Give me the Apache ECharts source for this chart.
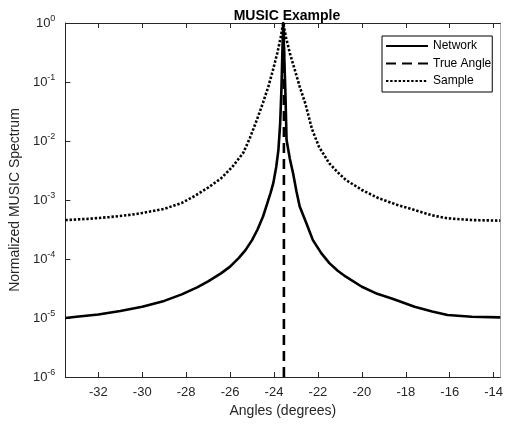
<!DOCTYPE html>
<html>
<head>
<meta charset="utf-8">
<script src="https://cdn.jsdelivr.net/npm/echarts@6/dist/echarts.min.js"></script>
<style>
  html, body { margin: 0; padding: 0; background: #fff; }
  #chart { width: 506px; height: 424px; }
</style>
</head>
<body>
<div id="chart"></div>
<script>
// values; spectrum values given as log10 (decades)
const xTicks = [-32, -30, -28, -26, -24, -22, -20, -18, -16, -14]

const networkAngles = [-33.5, -33.0, -32.0, -31.0, -30.0, -29.0, -28.2, -27.5, -27.0, -26.4, -26.0, -25.6, -25.3, -25.0,
    -24.75, -24.5, -24.3, -24.15, -24.03, -23.9, -23.8, -23.72, -23.66, -23.62, -23.58,
    -23.54, -23.48, -23.43, -23.28, -23.13, -22.98, -22.83, -22.5, -22.23, -21.85, -21.48, -21.1, -20.73,
    -20.0, -19.3, -18.64, -17.6, -16.8, -16.1, -15.0, -13.7]
const networkLog10 = [-5.00, -4.98, -4.94, -4.88, -4.81, -4.71, -4.60, -4.48, -4.38, -4.24, -4.13, -3.98, -3.85, -3.68,
    -3.50, -3.28, -3.05, -2.87, -2.71, -2.44, -2.15, -1.70, -1.10, -0.50, 0,
    -0.50, -1.20, -1.98, -2.30, -2.55, -2.85, -3.11, -3.42, -3.68, -3.90, -4.07, -4.20, -4.30,
    -4.47, -4.59, -4.67, -4.81, -4.89, -4.95, -4.98, -4.99]

const sampleAngles = [-33.5, -32.5, -31.5, -30.5, -30.0, -29.0, -28.2, -27.6, -27.0, -26.4, -25.9, -25.4, -25.1,
    -24.78, -24.5, -24.26, -24.05, -23.85, -23.7, -23.58,
    -23.45, -23.28, -23.05, -22.83, -22.57, -22.27, -21.95, -21.48, -21.1, -20.73, -20.0, -19.24,
    -18.41, -17.6, -16.8, -16.1, -15.0, -13.7]
const sampleLog10 = [-3.34, -3.32, -3.29, -3.25, -3.22, -3.15, -3.05, -2.93, -2.79, -2.63, -2.44, -2.20, -1.95,
    -1.64, -1.35, -1.08, -0.80, -0.51, -0.25, 0,
    -0.25, -0.51, -0.80, -1.08, -1.37, -1.80, -2.10, -2.38, -2.53, -2.66, -2.83, -2.97,
    -3.08, -3.17, -3.26, -3.31, -3.34, -3.35]

const trueAngle = -23.55
const trueAngleRange = [1e-6, 1]

const xMin = -33.5
const xMax = -13.7

function pairs(xs, logs) {
    return xs.map((x, i) => [x, Math.pow(10, logs[i])])
}

const axisColor = '#262626'
const font = 'Liberation Sans, Arial, sans-serif'

const myChart = echarts.init(document.getElementById('chart'))

const option = {
    animation: false,
    backgroundColor: '#fff',
    title: {
        text: 'MUSIC Example',
        left: 282,
        top: 4,
        textAlign: 'center',
        textStyle: { fontSize: 14, fontWeight: 'bold', color: '#000', fontFamily: font }
    },
    legend: {
        orient: 'vertical',
        left: 382,
        top: 36,
        padding: [4, 1, 5, 3],
        itemWidth: 42,
        itemHeight: 12,
        itemGap: 5.5,
        backgroundColor: '#fff',
        borderColor: '#000',
        borderWidth: 1,
        borderRadius: 0,
        itemStyle: { opacity: 0 },
        textStyle: { fontSize: 12, color: '#000', fontFamily: font },
        data: ['Network', 'True Angle', 'Sample']
    },
    grid: { left: 62, right: 3, top: 23, bottom: 47 },
    xAxis: [{
        type: 'value',
        min: xMin,
        max: xMax,
        name: 'Angles (degrees)',
        nameLocation: 'middle',
        nameGap: 27,
        nameTextStyle: { fontSize: 14, color: axisColor, fontFamily: font },
        axisLine: { show: true, lineStyle: { color: axisColor, width: 1 } },
        axisTick: { inside: true, length: 5, customValues: xTicks, lineStyle: { color: axisColor } },
        axisLabel: {
            customValues: xTicks,
            fontSize: 13,
            margin: 9,
            color: axisColor,
            fontFamily: font
        },
        splitLine: { show: false }
    }, {
        type: 'value',
        position: 'top',
        min: xMin,
        max: xMax,
        axisLine: { show: true, lineStyle: { color: axisColor, width: 1 } },
        axisTick: { inside: true, length: 5, customValues: xTicks, lineStyle: { color: axisColor } },
        axisLabel: { show: false },
        splitLine: { show: false }
    }],
    yAxis: [{
        type: 'log',
        logBase: 10,
        min: 1e-6,
        max: 1,
        name: 'Normalized MUSIC Spectrum',
        nameLocation: 'middle',
        nameGap: 34,
        nameTextStyle: { fontSize: 14, color: axisColor, fontFamily: font },
        axisLine: { show: true, lineStyle: { color: axisColor, width: 1 } },
        axisTick: { inside: true, length: 5, lineStyle: { color: axisColor } },
        axisLabel: {
            margin: 10,
            color: axisColor,
            fontFamily: font,
            formatter: function (v) {
                const e = Math.round(Math.log10(v))
                return '{b|10}{e|' + e + '}'
            },
            rich: {
                b: { fontSize: 13, color: axisColor, fontFamily: font },
                e: { fontSize: 9, color: axisColor, fontFamily: font, padding: [0, 0, 8, 0] }
            }
        },
        splitLine: { show: false }
    }, {
        type: 'log',
        logBase: 10,
        position: 'right',
        min: 1e-6,
        max: 1,
        axisLine: { show: true, lineStyle: { color: '#aaa', width: 1 } },
        axisTick: { show: false },
        axisLabel: { show: false },
        splitLine: { show: false }
    }],
    series: [{
        name: 'Network',
        type: 'line',
        data: pairs(networkAngles, networkLog10),
        symbol: 'none',
        clip: true,
        lineStyle: { color: '#000', width: 2.6, type: 'solid', join: 'round' },
        itemStyle: { color: '#000' },
        z: 3
    }, {
        name: 'True Angle',
        type: 'line',
        data: trueAngleRange.map(v => [trueAngle, v]),
        symbol: 'none',
        clip: true,
        lineStyle: { color: '#000', width: 2.6, type: [10, 6] },
        itemStyle: { color: '#000' },
        z: 4
    }, {
        name: 'Sample',
        type: 'line',
        data: pairs(sampleAngles, sampleLog10),
        symbol: 'none',
        clip: true,
        lineStyle: { color: '#000', width: 2.6, type: [2.4, 1.8] },
        itemStyle: { color: '#000' },
        z: 2
    }]
}

myChart.setOption(option)
</script>
</body>
</html>
